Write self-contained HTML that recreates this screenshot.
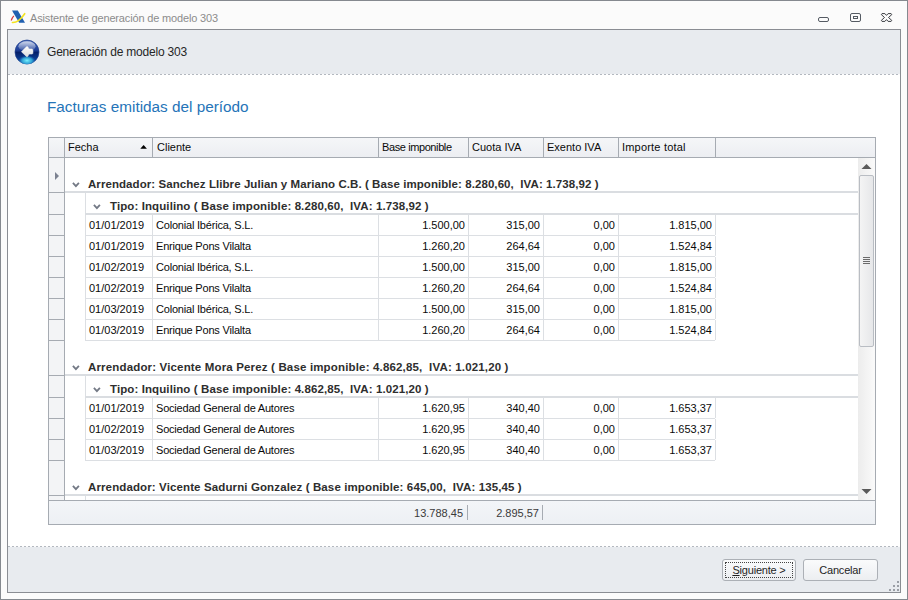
<!DOCTYPE html>
<html><head><meta charset="utf-8">
<style>
*{margin:0;padding:0;box-sizing:border-box}
html,body{width:908px;height:600px;overflow:hidden;background:#fbfbfb;font-family:"Liberation Sans",sans-serif}
.a{position:absolute}
#win{position:absolute;left:0;top:0;width:908px;height:600px;border:1px solid #85898f;background:#fbfbfb}
#frame{position:absolute;left:7px;top:29px;width:894px;height:564px;border:1px solid #8a8d93;background:#fff}
#hdrband{position:absolute;left:8px;top:30px;width:892px;height:45px;background:#e8ebef}
#ftrband{position:absolute;left:8px;top:546px;width:892px;height:46px;background:#e8ebef}
.dash{position:absolute;height:1px;background-image:linear-gradient(to right,#b3b8bf 50%,#fbfbfc 50%);background-size:4px 1px}
.ttl{position:absolute;white-space:pre;color:#8c8c8c;font-size:11px;letter-spacing:-0.16px}
#grid{position:absolute;left:48px;top:137px;width:828px;height:388px;border:1px solid #a6abb2;background:#fff;overflow:hidden}
.gi{position:absolute}
.t{position:absolute;white-space:pre;font-size:11px;line-height:13px;color:#0a0a0a}
.r{text-align:right}
.g{position:absolute;white-space:pre;font-size:11.5px;line-height:13px;font-weight:bold;color:#2e2e2e;letter-spacing:0.31px}
.hl{position:absolute;height:1px;background:#dcdfe3}
.gl{position:absolute;height:2px;background:#dadde1}
.vl{position:absolute;width:1px;background:#dcdfe3}
.ind{position:absolute;left:48px;width:17px;border-left:1px solid #a6abb2;border-right:1px solid #a6abb2;border-bottom:1px solid #a6abb2;background:#f3f4f6}
.chev{position:absolute}
.btn{position:absolute;height:22px;border:1px solid #acb0b6;border-radius:3px;background:linear-gradient(#fafbfc,#eceef1);font-size:11px;text-align:center;line-height:20px;color:#1e1e1e;letter-spacing:-0.2px}
</style></head><body>
<div id="win"></div>
<!-- logo -->
<svg class="a" style="left:10px;top:9px" width="18" height="16" viewBox="0 0 18 16">
  <path d="M2 1.4 L7.8 1.4 L15 13.8 L9.2 13.8 Z" fill="#2160b0"/>
  <path d="M1.2 11.5 Q2 8.8 3.8 6.8" fill="none" stroke="#d8363a" stroke-width="1.2"/>
  <path d="M2.4 13.5 Q8.5 13.9 14.7 4.7" fill="none" stroke="#f3e31e" stroke-width="1.6" stroke-linecap="round"/>
</svg>
<div class="ttl" style="left:30px;top:12px;font-size:11px">Asistente de generación de modelo 303</div>
<!-- window buttons -->
<div class="a" style="left:818px;top:17px;width:11px;height:5px;border:1px solid #555b63;border-radius:2px"></div>
<div class="a" style="left:850px;top:13px;width:11px;height:9px;border:1px solid #555b63;border-radius:2px"></div>
<div class="a" style="left:853px;top:16px;width:5px;height:3px;border:1px solid #555b63"></div>
<svg class="a" style="left:876px;top:8px" width="22" height="18" viewBox="0 0 22 18"><path d="M6 5.6 L8.9 5.6 L10.5 7.4 L12.1 5.6 L15.1 5.6 L15.8 6.6 L12.5 9.5 L15.8 12.4 L15.1 13.4 L12.1 13.4 L10.5 11.6 L8.9 13.4 L6 13.4 L5.3 12.4 L8.5 9.5 L5.3 6.6 Z" fill="#fbfbfb" stroke="#3a3d42" stroke-width="1.0" stroke-linejoin="round"/></svg>

<div id="frame"></div>
<div id="hdrband"></div>
<div class="dash" style="left:8px;top:74px;width:892px"></div>
<div id="ftrband"></div>
<div class="dash" style="left:8px;top:546px;width:892px"></div>

<!-- back icon -->
<svg class="a" style="left:14px;top:39px" width="26" height="26" viewBox="0 0 26 26">
 <defs>
  <linearGradient id="bg1" x1="0" y1="0" x2="0" y2="1">
   <stop offset="0" stop-color="#3f63b5"/><stop offset="0.42" stop-color="#1e3f98"/><stop offset="0.52" stop-color="#05206a"/><stop offset="0.8" stop-color="#0a3c92"/><stop offset="1" stop-color="#1c64b4"/>
  </linearGradient>
  <linearGradient id="sh" x1="0" y1="0" x2="0" y2="1"><stop offset="0" stop-color="#fff" stop-opacity="0.75"/><stop offset="1" stop-color="#fff" stop-opacity="0.08"/></linearGradient>
  <radialGradient id="gl" cx="50%" cy="60%" r="50%"><stop offset="0" stop-color="#7af2ff" stop-opacity="1"/><stop offset="0.6" stop-color="#3fc8ec" stop-opacity="0.7"/><stop offset="1" stop-color="#1b7fd0" stop-opacity="0"/></radialGradient>
  <linearGradient id="ar" x1="0" y1="0" x2="0" y2="1"><stop offset="0" stop-color="#ffffff"/><stop offset="1" stop-color="#dcdcdc"/></linearGradient>
 </defs>
 <circle cx="13" cy="13" r="12" fill="url(#bg1)" stroke="#22418c" stroke-width="0.7"/>
 <ellipse cx="13" cy="20.5" rx="8.5" ry="5" fill="url(#gl)"/>
 <ellipse cx="13" cy="7.2" rx="8.6" ry="5" fill="url(#sh)"/>
 <path d="M7.4 12.75 L12.4 7.8 Q13.1 7.1 13.8 7.8 L15.1 9.9 L18.3 9.9 Q19 10 19 12.5 Q19 15 18.3 15.1 L15.1 15.1 L13.8 17.3 Q13.1 18.1 12.4 17.4 Z" fill="url(#ar)" stroke="#f0f0f0" stroke-width="0.5" stroke-linejoin="round"/>
</svg>
<div class="a" style="left:47px;top:45px;font-size:12px;white-space:pre;color:#262626;letter-spacing:-0.2px">Generación de modelo 303</div>

<div class="a" style="left:47px;top:98px;font-size:15.3px;white-space:pre;color:#2574b8">Facturas emitidas del período</div>

<!-- grid -->
<div id="grid"></div>
<!-- header -->
<div class="a" style="left:49px;top:138px;width:826px;height:20px;background:linear-gradient(#f5f6f8,#eceef2);border-bottom:1px solid #a6abb2"></div>
<div class="a" style="left:64px;top:138px;width:1px;height:19px;background:#a6abb2"></div>
<div class="a" style="left:152px;top:138px;width:1px;height:19px;background:#a6abb2"></div>
<div class="a" style="left:378px;top:138px;width:1px;height:19px;background:#a6abb2"></div>
<div class="a" style="left:468px;top:138px;width:1px;height:19px;background:#a6abb2"></div>
<div class="a" style="left:543px;top:138px;width:1px;height:19px;background:#a6abb2"></div>
<div class="a" style="left:618px;top:138px;width:1px;height:19px;background:#a6abb2"></div>
<div class="a" style="left:715px;top:138px;width:1px;height:19px;background:#a6abb2"></div>
<div class="t" style="left:68px;top:141px">Fecha</div>
<svg class="a" style="left:140px;top:144px" width="8" height="6"><path d="M0.3 4.7 L3.6 1 L6.9 4.7 Z" fill="#000"/></svg>
<div class="t" style="left:157px;top:141px">Cliente</div>
<div class="t" style="left:382px;top:141px;letter-spacing:-0.4px">Base imponible</div>
<div class="t" style="left:472px;top:141px">Cuota IVA</div>
<div class="t" style="left:547px;top:141px">Exento IVA</div>
<div class="t" style="left:622px;top:141px;letter-spacing:0.2px">Importe total</div>
<!-- indicator top cell under header (current row arrow) -->
<div class="ind" style="top:158px;height:35px"></div>
<div class="gl" style="left:65px;width:793px;top:191px"></div>
<svg class="chev" style="left:72px;top:182px" width="8" height="6"><path d="M0.9 0.9 L3.9 4.1 L6.9 0.9" fill="none" stroke="#737985" stroke-width="1.8"/></svg>
<div class="g" style="left:88px;top:178px;letter-spacing:0.07px">Arrendador: Sanchez Llibre Julian y Mariano C.B. ( Base imponible: 8.280,60,&nbsp; IVA: 1.738,92 )</div>
<div class="ind" style="top:193px;height:22px"></div>
<div class="gl" style="left:85px;width:773px;top:213px"></div>
<div class="vl" style="left:85px;top:193px;height:20px"></div>
<svg class="chev" style="left:93px;top:204px" width="8" height="6"><path d="M0.9 0.9 L3.9 4.1 L6.9 0.9" fill="none" stroke="#737985" stroke-width="1.8"/></svg>
<div class="g" style="left:110px;top:200px;letter-spacing:0.1px">Tipo: Inquilino ( Base imponible: 8.280,60,&nbsp; IVA: 1.738,92 )</div>
<div class="ind" style="top:215px;height:21px"></div>
<div class="hl" style="left:85px;width:630px;top:235px"></div>
<div class="vl" style="left:152px;top:215px;height:20px"></div>
<div class="vl" style="left:378px;top:215px;height:20px"></div>
<div class="vl" style="left:468px;top:215px;height:20px"></div>
<div class="vl" style="left:543px;top:215px;height:20px"></div>
<div class="vl" style="left:618px;top:215px;height:20px"></div>
<div class="vl" style="left:715px;top:215px;height:20px"></div>
<div class="vl" style="left:85px;top:215px;height:20px"></div>
<div class="t" style="left:89px;top:219px">01/01/2019</div>
<div class="t" style="left:156px;top:219px;letter-spacing:-0.2px">Colonial Ibérica, S.L.</div>
<div class="t r" style="left:378px;width:87px;top:219px">1.500,00</div>
<div class="t r" style="left:468px;width:72px;top:219px">315,00</div>
<div class="t r" style="left:543px;width:72px;top:219px">0,00</div>
<div class="t r" style="left:618px;width:94px;top:219px">1.815,00</div>
<div class="ind" style="top:236px;height:21px"></div>
<div class="hl" style="left:85px;width:630px;top:256px"></div>
<div class="vl" style="left:152px;top:236px;height:20px"></div>
<div class="vl" style="left:378px;top:236px;height:20px"></div>
<div class="vl" style="left:468px;top:236px;height:20px"></div>
<div class="vl" style="left:543px;top:236px;height:20px"></div>
<div class="vl" style="left:618px;top:236px;height:20px"></div>
<div class="vl" style="left:715px;top:236px;height:20px"></div>
<div class="vl" style="left:85px;top:236px;height:20px"></div>
<div class="t" style="left:89px;top:240px">01/01/2019</div>
<div class="t" style="left:156px;top:240px;letter-spacing:-0.2px">Enrique Pons Vilalta</div>
<div class="t r" style="left:378px;width:87px;top:240px">1.260,20</div>
<div class="t r" style="left:468px;width:72px;top:240px">264,64</div>
<div class="t r" style="left:543px;width:72px;top:240px">0,00</div>
<div class="t r" style="left:618px;width:94px;top:240px">1.524,84</div>
<div class="ind" style="top:257px;height:21px"></div>
<div class="hl" style="left:85px;width:630px;top:277px"></div>
<div class="vl" style="left:152px;top:257px;height:20px"></div>
<div class="vl" style="left:378px;top:257px;height:20px"></div>
<div class="vl" style="left:468px;top:257px;height:20px"></div>
<div class="vl" style="left:543px;top:257px;height:20px"></div>
<div class="vl" style="left:618px;top:257px;height:20px"></div>
<div class="vl" style="left:715px;top:257px;height:20px"></div>
<div class="vl" style="left:85px;top:257px;height:20px"></div>
<div class="t" style="left:89px;top:261px">01/02/2019</div>
<div class="t" style="left:156px;top:261px;letter-spacing:-0.2px">Colonial Ibérica, S.L.</div>
<div class="t r" style="left:378px;width:87px;top:261px">1.500,00</div>
<div class="t r" style="left:468px;width:72px;top:261px">315,00</div>
<div class="t r" style="left:543px;width:72px;top:261px">0,00</div>
<div class="t r" style="left:618px;width:94px;top:261px">1.815,00</div>
<div class="ind" style="top:278px;height:21px"></div>
<div class="hl" style="left:85px;width:630px;top:298px"></div>
<div class="vl" style="left:152px;top:278px;height:20px"></div>
<div class="vl" style="left:378px;top:278px;height:20px"></div>
<div class="vl" style="left:468px;top:278px;height:20px"></div>
<div class="vl" style="left:543px;top:278px;height:20px"></div>
<div class="vl" style="left:618px;top:278px;height:20px"></div>
<div class="vl" style="left:715px;top:278px;height:20px"></div>
<div class="vl" style="left:85px;top:278px;height:20px"></div>
<div class="t" style="left:89px;top:282px">01/02/2019</div>
<div class="t" style="left:156px;top:282px;letter-spacing:-0.2px">Enrique Pons Vilalta</div>
<div class="t r" style="left:378px;width:87px;top:282px">1.260,20</div>
<div class="t r" style="left:468px;width:72px;top:282px">264,64</div>
<div class="t r" style="left:543px;width:72px;top:282px">0,00</div>
<div class="t r" style="left:618px;width:94px;top:282px">1.524,84</div>
<div class="ind" style="top:299px;height:21px"></div>
<div class="hl" style="left:85px;width:630px;top:319px"></div>
<div class="vl" style="left:152px;top:299px;height:20px"></div>
<div class="vl" style="left:378px;top:299px;height:20px"></div>
<div class="vl" style="left:468px;top:299px;height:20px"></div>
<div class="vl" style="left:543px;top:299px;height:20px"></div>
<div class="vl" style="left:618px;top:299px;height:20px"></div>
<div class="vl" style="left:715px;top:299px;height:20px"></div>
<div class="vl" style="left:85px;top:299px;height:20px"></div>
<div class="t" style="left:89px;top:303px">01/03/2019</div>
<div class="t" style="left:156px;top:303px;letter-spacing:-0.2px">Colonial Ibérica, S.L.</div>
<div class="t r" style="left:378px;width:87px;top:303px">1.500,00</div>
<div class="t r" style="left:468px;width:72px;top:303px">315,00</div>
<div class="t r" style="left:543px;width:72px;top:303px">0,00</div>
<div class="t r" style="left:618px;width:94px;top:303px">1.815,00</div>
<div class="ind" style="top:320px;height:21px"></div>
<div class="hl" style="left:85px;width:630px;top:340px"></div>
<div class="vl" style="left:152px;top:320px;height:20px"></div>
<div class="vl" style="left:378px;top:320px;height:20px"></div>
<div class="vl" style="left:468px;top:320px;height:20px"></div>
<div class="vl" style="left:543px;top:320px;height:20px"></div>
<div class="vl" style="left:618px;top:320px;height:20px"></div>
<div class="vl" style="left:715px;top:320px;height:20px"></div>
<div class="vl" style="left:85px;top:320px;height:20px"></div>
<div class="t" style="left:89px;top:324px">01/03/2019</div>
<div class="t" style="left:156px;top:324px;letter-spacing:-0.2px">Enrique Pons Vilalta</div>
<div class="t r" style="left:378px;width:87px;top:324px">1.260,20</div>
<div class="t r" style="left:468px;width:72px;top:324px">264,64</div>
<div class="t r" style="left:543px;width:72px;top:324px">0,00</div>
<div class="t r" style="left:618px;width:94px;top:324px">1.524,84</div>
<div class="ind" style="top:341px;height:35px"></div>
<div class="gl" style="left:65px;width:793px;top:374px"></div>
<svg class="chev" style="left:72px;top:365px" width="8" height="6"><path d="M0.9 0.9 L3.9 4.1 L6.9 0.9" fill="none" stroke="#737985" stroke-width="1.8"/></svg>
<div class="g" style="left:88px;top:361px;letter-spacing:0.16px">Arrendador: Vicente Mora Perez ( Base imponible: 4.862,85,&nbsp; IVA: 1.021,20 )</div>
<div class="ind" style="top:376px;height:22px"></div>
<div class="gl" style="left:85px;width:773px;top:396px"></div>
<div class="vl" style="left:85px;top:376px;height:20px"></div>
<svg class="chev" style="left:93px;top:387px" width="8" height="6"><path d="M0.9 0.9 L3.9 4.1 L6.9 0.9" fill="none" stroke="#737985" stroke-width="1.8"/></svg>
<div class="g" style="left:110px;top:383px;letter-spacing:0.1px">Tipo: Inquilino ( Base imponible: 4.862,85,&nbsp; IVA: 1.021,20 )</div>
<div class="ind" style="top:398px;height:21px"></div>
<div class="hl" style="left:85px;width:630px;top:418px"></div>
<div class="vl" style="left:152px;top:398px;height:20px"></div>
<div class="vl" style="left:378px;top:398px;height:20px"></div>
<div class="vl" style="left:468px;top:398px;height:20px"></div>
<div class="vl" style="left:543px;top:398px;height:20px"></div>
<div class="vl" style="left:618px;top:398px;height:20px"></div>
<div class="vl" style="left:715px;top:398px;height:20px"></div>
<div class="vl" style="left:85px;top:398px;height:20px"></div>
<div class="t" style="left:89px;top:402px">01/01/2019</div>
<div class="t" style="left:156px;top:402px;letter-spacing:-0.2px">Sociedad General de Autores</div>
<div class="t r" style="left:378px;width:87px;top:402px">1.620,95</div>
<div class="t r" style="left:468px;width:72px;top:402px">340,40</div>
<div class="t r" style="left:543px;width:72px;top:402px">0,00</div>
<div class="t r" style="left:618px;width:94px;top:402px">1.653,37</div>
<div class="ind" style="top:419px;height:21px"></div>
<div class="hl" style="left:85px;width:630px;top:439px"></div>
<div class="vl" style="left:152px;top:419px;height:20px"></div>
<div class="vl" style="left:378px;top:419px;height:20px"></div>
<div class="vl" style="left:468px;top:419px;height:20px"></div>
<div class="vl" style="left:543px;top:419px;height:20px"></div>
<div class="vl" style="left:618px;top:419px;height:20px"></div>
<div class="vl" style="left:715px;top:419px;height:20px"></div>
<div class="vl" style="left:85px;top:419px;height:20px"></div>
<div class="t" style="left:89px;top:423px">01/02/2019</div>
<div class="t" style="left:156px;top:423px;letter-spacing:-0.2px">Sociedad General de Autores</div>
<div class="t r" style="left:378px;width:87px;top:423px">1.620,95</div>
<div class="t r" style="left:468px;width:72px;top:423px">340,40</div>
<div class="t r" style="left:543px;width:72px;top:423px">0,00</div>
<div class="t r" style="left:618px;width:94px;top:423px">1.653,37</div>
<div class="ind" style="top:440px;height:21px"></div>
<div class="hl" style="left:85px;width:630px;top:460px"></div>
<div class="vl" style="left:152px;top:440px;height:20px"></div>
<div class="vl" style="left:378px;top:440px;height:20px"></div>
<div class="vl" style="left:468px;top:440px;height:20px"></div>
<div class="vl" style="left:543px;top:440px;height:20px"></div>
<div class="vl" style="left:618px;top:440px;height:20px"></div>
<div class="vl" style="left:715px;top:440px;height:20px"></div>
<div class="vl" style="left:85px;top:440px;height:20px"></div>
<div class="t" style="left:89px;top:444px">01/03/2019</div>
<div class="t" style="left:156px;top:444px;letter-spacing:-0.2px">Sociedad General de Autores</div>
<div class="t r" style="left:378px;width:87px;top:444px">1.620,95</div>
<div class="t r" style="left:468px;width:72px;top:444px">340,40</div>
<div class="t r" style="left:543px;width:72px;top:444px">0,00</div>
<div class="t r" style="left:618px;width:94px;top:444px">1.653,37</div>
<div class="ind" style="top:496px;height:4px;border-bottom:none"></div>
<div class="vl" style="left:85px;top:496px;height:4px"></div>
<div class="ind" style="top:461px;height:35px"></div>
<div class="gl" style="left:65px;width:793px;top:494px"></div>
<svg class="chev" style="left:72px;top:485px" width="8" height="6"><path d="M0.9 0.9 L3.9 4.1 L6.9 0.9" fill="none" stroke="#737985" stroke-width="1.8"/></svg>
<div class="g" style="left:88px;top:481px;letter-spacing:0.12px">Arrendador: Vicente Sadurni Gonzalez ( Base imponible: 645,00,&nbsp; IVA: 135,45 )</div>
<svg class="a" style="left:54px;top:171px" width="6" height="10"><path d="M1 1 L5 5 L1 9 Z" fill="#7b8190"/></svg>
<!-- scrollbar -->
<div class="a" style="left:858px;top:158px;width:17px;height:342px;background:linear-gradient(to right,#ececec,#fafafa)"></div>
<svg class="a" style="left:861px;top:163px" width="11" height="7"><path d="M0.5 6 L5.5 1 L10.5 6 Z" fill="#5a5a5a"/></svg>
<div class="a" style="left:859px;top:175px;width:15px;height:172px;border:1px solid #b9bdc3;border-radius:2px;background:linear-gradient(to right,#f4f4f4,#e6e7e9)"></div>
<div class="a" style="left:863px;top:257px;width:7px;height:7px;background:repeating-linear-gradient(#6b6b6b 0 1px,transparent 1px 2px)"></div>
<svg class="a" style="left:861px;top:488px" width="11" height="7"><path d="M0.5 1 L5.5 6 L10.5 1 Z" fill="#5a5a5a"/></svg>
<!-- grid footer -->
<div class="a" style="left:49px;top:500px;width:826px;height:24px;border-top:1px solid #a6abb2;background:linear-gradient(#f3f5f8,#edf0f4)"></div>
<div class="t r" style="left:380px;width:83px;top:507px;color:#3a3a3a">13.788,45</div>
<div class="a" style="left:467px;top:505px;width:1px;height:15px;background:#a6abb2"></div>
<div class="t r" style="left:470px;width:69px;top:507px;color:#3a3a3a">2.895,57</div>
<div class="a" style="left:542px;top:505px;width:1px;height:15px;background:#a6abb2"></div>

<!-- buttons -->
<div class="btn" style="left:722px;top:559px;width:74px"><div class="a" style="left:2px;top:2px;width:68px;height:16px;border:1px dotted #444"></div><span style="text-decoration:underline;text-decoration-thickness:1px">S</span>iguiente &gt;</div>
<div class="btn" style="left:803px;top:559px;width:75px">Cancelar</div>
<!-- grip -->
<div class="a" style="left:897px;top:581px;width:2px;height:2px;background:#9a9ea5"></div>
<div class="a" style="left:893px;top:585px;width:2px;height:2px;background:#9a9ea5"></div>
<div class="a" style="left:897px;top:585px;width:2px;height:2px;background:#9a9ea5"></div>
<div class="a" style="left:889px;top:589px;width:2px;height:2px;background:#9a9ea5"></div>
<div class="a" style="left:893px;top:589px;width:2px;height:2px;background:#9a9ea5"></div>
<div class="a" style="left:897px;top:589px;width:2px;height:2px;background:#9a9ea5"></div>
</body></html>
